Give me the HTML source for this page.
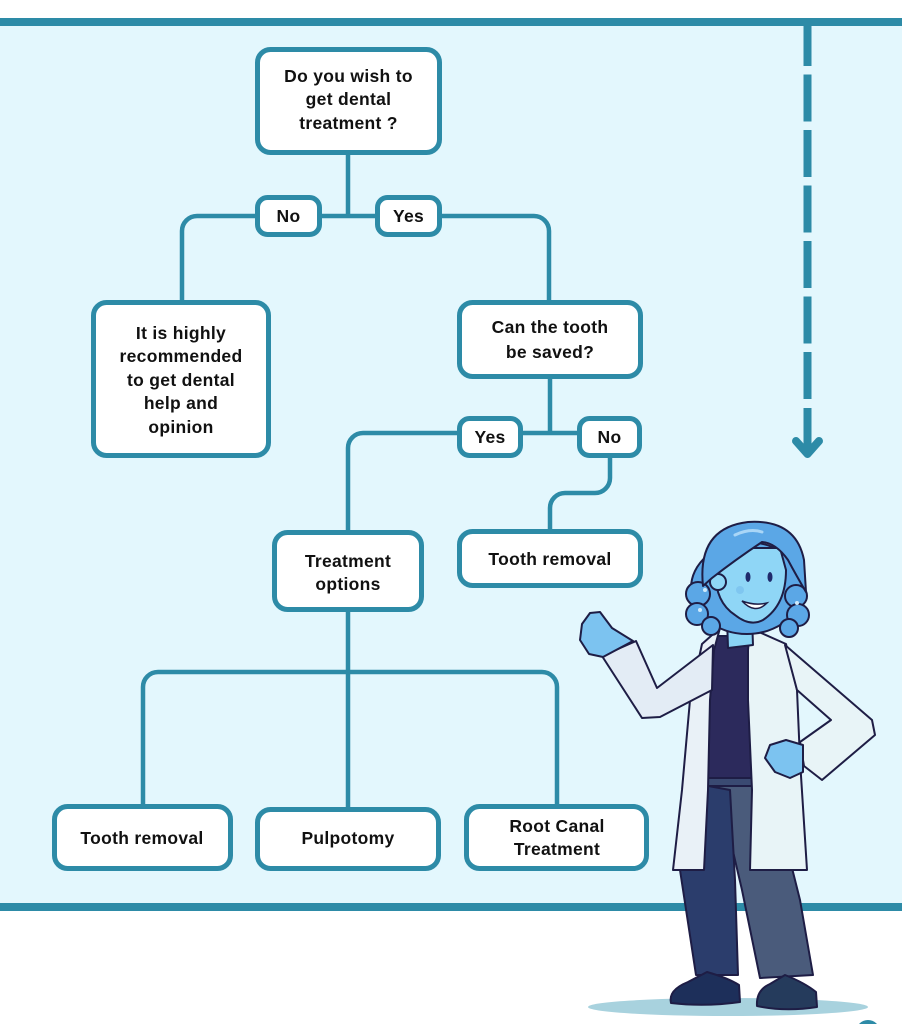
<!DOCTYPE html>
<html><head><meta charset="utf-8"><style>
html,body{margin:0;padding:0;background:#fff;}
svg{display:block;}
text{font-family:"Liberation Sans",sans-serif;font-weight:bold;font-size:17.5px;letter-spacing:0.3px;fill:#111;text-anchor:middle;}
</style></head><body>
<svg width="902" height="1024" viewBox="0 0 902 1024" xmlns="http://www.w3.org/2000/svg">
<rect x="0" y="0" width="902" height="1024" fill="#ffffff"/>
<rect x="0" y="22" width="902" height="885" fill="#e3f7fd"/>
<rect x="0" y="18" width="902" height="8" fill="#2d8ba7"/>
<rect x="0" y="903" width="902" height="8" fill="#2d8ba7"/>

<!-- dashed arrow -->
<line x1="807.5" y1="19" x2="807.5" y2="399" stroke="#2d8ba7" stroke-width="8" stroke-dasharray="47 8.5"/>
<line x1="807.5" y1="408" x2="807.5" y2="452" stroke="#2d8ba7" stroke-width="8"/>
<polyline points="796,441 807.5,454 819,441" fill="none" stroke="#2d8ba7" stroke-width="8" stroke-linecap="round" stroke-linejoin="round"/>

<!-- connectors -->
<g fill="none" stroke="#2d8ba7" stroke-width="4.5">
<path d="M348 154 V216"/>
<path d="M348 216 H197 A15 15 0 0 0 182 231 V302"/>
<path d="M348 216 H534 A15 15 0 0 1 549 231 V302"/>
<path d="M550 378 V433"/>
<path d="M610 433 H363 A15 15 0 0 0 348 448 V532"/>
<path d="M610 456 V478 A15 15 0 0 1 595 493 H565 A15 15 0 0 0 550 508 V531"/>
<path d="M348 611 V808"/>
<path d="M143 806 V687 A15 15 0 0 1 158 672 H542 A15 15 0 0 1 557 687 V806"/>
</g>

<!-- boxes -->
<g fill="#ffffff" stroke="#2d8ba7" stroke-width="5">
<rect x="257.5" y="49.5" width="182" height="103" rx="13"/>
<rect x="257.5" y="197.5" width="62" height="37" rx="10"/>
<rect x="377.5" y="197.5" width="62" height="37" rx="10"/>
<rect x="93.5" y="302.5" width="175" height="153" rx="13"/>
<rect x="459.5" y="302.5" width="181" height="74" rx="13"/>
<rect x="459.5" y="418.5" width="61" height="37" rx="10"/>
<rect x="579.5" y="418.5" width="60" height="37" rx="10"/>
<rect x="274.5" y="532.5" width="147" height="77" rx="13"/>
<rect x="459.5" y="531.5" width="181" height="54" rx="13"/>
<rect x="54.5" y="806.5" width="176" height="62" rx="13"/>
<rect x="257.5" y="809.5" width="181" height="59" rx="13"/>
<rect x="466.5" y="806.5" width="180" height="62" rx="13"/>
</g>

<!-- texts -->
<text x="348.5" y="82">Do you wish to</text>
<text x="348.5" y="105">get dental</text>
<text x="348.5" y="129">treatment ?</text>
<text x="288.5" y="222">No</text>
<text x="408.5" y="222">Yes</text>
<text x="181" y="339">It is highly</text>
<text x="181" y="362">recommended</text>
<text x="181" y="386">to get dental</text>
<text x="181" y="409">help and</text>
<text x="181" y="433">opinion</text>
<text x="550" y="333">Can the tooth</text>
<text x="550" y="358">be saved?</text>
<text x="490" y="443">Yes</text>
<text x="609.5" y="443">No</text>
<text x="348" y="567">Treatment</text>
<text x="348" y="590">options</text>
<text x="550" y="565">Tooth removal</text>
<text x="142" y="844">Tooth removal</text>
<text x="348" y="844">Pulpotomy</text>
<text x="557" y="832">Root Canal</text>
<text x="557" y="855">Treatment</text>

<!-- character -->
<ellipse cx="728" cy="1007" rx="140" ry="9" fill="#a8d2de"/>
<g stroke="#1e1d45" stroke-width="2" stroke-linejoin="round">
<!-- legs -->
<path d="M712 785 L752 785 L790 860 L800 900 L813 975 L760 978 L742 890 L728 830 Z" fill="#4a5b7b"/>
<path d="M703 785 L730 790 L735 880 L738 975 L696 975 L680 870 L690 820 Z" fill="#2b3d6c"/>
<!-- shoes -->
<path d="M671 1003 Q668 990 688 982 L707 972 Q728 978 739 985 L740 1002 Q705 1007 671 1003 Z" fill="#1d2f5a"/>
<path d="M757 1006 Q756 990 770 984 L785 975 Q805 983 816 992 L817 1007 Q785 1012 757 1006 Z" fill="#253b5c"/>
<!-- waist -->
<rect x="707" y="776" width="45" height="10" fill="#3a4a72"/>
<!-- shirt -->
<path d="M712 636 L750 636 L753 778 L707 778 Z" fill="#2c2a5c"/>
<!-- coat panels -->
<path d="M720 628 L702 644 L690 700 L682 790 L673 870 L704 870 L708 790 L710 700 L714 650 Z" fill="#e9f1f7"/>
<path d="M750 628 L786 644 L797 690 L800 760 L807 870 L750 870 L752 790 L748 700 L748 650 Z" fill="#e8f4f7"/>
<!-- raised arm -->
<path d="M602 656 L636 641 L657 688 L713 645 L712 690 L660 717 L642 718 Z" fill="#e3ecf5"/>
<path d="M633 641 L612 628 L600 612 L590 613 L582 624 L580 640 L589 654 L603 657 Z" fill="#7cc3f0"/>
<!-- akimbo arm -->
<path d="M785 645 L872 720 L875 735 L822 780 L804 766 L800 742 L831 720 L797 690 Z" fill="#e8f4f7"/>
<path d="M803 745 L786 740 L770 745 L765 758 L775 772 L790 778 L803 772 Z" fill="#7cc3f0"/>
<!-- neck -->
<path d="M727 618 L752 618 L753 645 L728 648 Z" fill="#8ad4f5"/>
<!-- back hair -->
<ellipse cx="747" cy="588" rx="56" ry="46" fill="#5ba7e6"/>
<!-- curls -->
<circle cx="698" cy="594" r="12" fill="#5ba7e6"/>
<circle cx="697" cy="614" r="11" fill="#5ba7e6"/>
<circle cx="711" cy="626" r="9" fill="#5ba7e6"/>
<circle cx="796" cy="596" r="11" fill="#5ba7e6"/>
<circle cx="798" cy="615" r="11" fill="#5ba7e6"/>
<circle cx="789" cy="628" r="9" fill="#5ba7e6"/>
<!-- face -->
<path d="M716 562 Q712 600 735 615 Q750 627 763 620 Q786 605 786 570 L780 548 L724 548 Z" fill="#8fd6f6"/>
<circle cx="718" cy="582" r="8" fill="#8fd6f6"/>
<!-- hair cap -->
<path d="M703 586 Q697 528 748 522 Q796 519 804 560 L806 592 Q796 575 788 560 Q776 543 762 542 Q735 560 712 578 Z" fill="#5ba7e6"/>
</g>
<ellipse cx="748" cy="577" rx="2.5" ry="5" fill="#1f2a6b"/>
<ellipse cx="770" cy="577" rx="2.5" ry="5" fill="#1f2a6b"/>
<path d="M742 601 Q755 615 767 603 Q755 606 742 601 Z" fill="#ffffff" stroke="#1e1d45" stroke-width="1.5"/>
<circle cx="740" cy="590" r="4" fill="#7fc6f0"/>
<circle cx="705" cy="590" r="2" fill="#cfeafb"/>
<circle cx="700" cy="610" r="2" fill="#cfeafb"/>
<circle cx="797" cy="603" r="2" fill="#cfeafb"/>
<path d="M735 535 Q750 528 762 532" fill="none" stroke="#a9d6f7" stroke-width="3" stroke-linecap="round"/>
<circle cx="868" cy="1032" r="12" fill="#2d8ba7"/>
</svg>
</body></html>
